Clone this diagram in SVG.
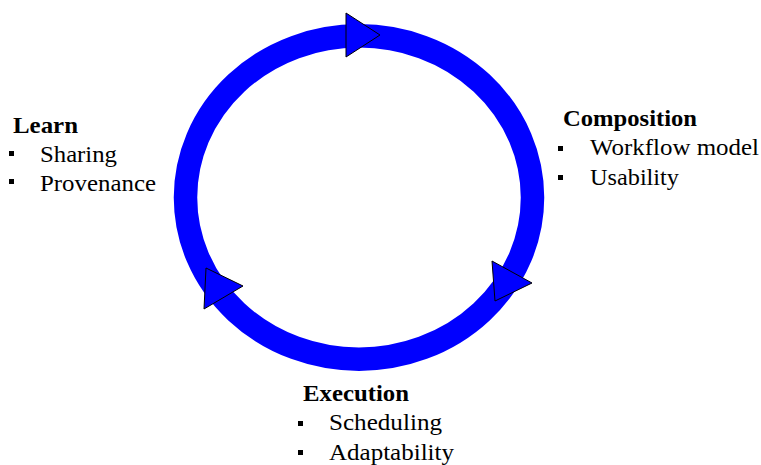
<svg xmlns="http://www.w3.org/2000/svg" width="761" height="465" viewBox="0 0 761 465">
<style>
.h{font-family:"Liberation Serif","Times New Roman",serif;font-weight:bold;font-size:23px;fill:#000}
.t{font-family:"Liberation Serif","Times New Roman",serif;font-size:23px;fill:#000}
.b{fill:#000}
.ah{fill:#0000ff;stroke:#000;stroke-width:1;stroke-linejoin:miter}
</style>
<rect width="761" height="465" fill="#fff"/>
<g id="connectors">
<ellipse cx="359" cy="197.5" rx="173.5" ry="161.7" fill="none" stroke="#0000ff" stroke-width="23.5"/>
<polygon class="ah" points="346,13 380,35 346,57"/>
<polygon class="ah" points="492,261 532,283 495,301"/>
<polygon class="ah" points="206,268 243,286 204,309"/>
</g>
<g id="learn">
<text class="h" x="13" y="133" textLength="65" lengthAdjust="spacingAndGlyphs">Learn</text>
<rect class="b" x="9" y="151" width="5" height="5"/>
<text class="t" x="40" y="162" textLength="77" lengthAdjust="spacingAndGlyphs">Sharing</text>
<rect class="b" x="9" y="179" width="5" height="5"/>
<text class="t" x="40" y="191" textLength="116" lengthAdjust="spacingAndGlyphs">Provenance</text>
</g>
<g id="composition">
<text class="h" x="563" y="126" textLength="134" lengthAdjust="spacingAndGlyphs">Composition</text>
<rect class="b" x="558" y="146" width="5" height="5"/>
<text class="t" x="590" y="155" textLength="169" lengthAdjust="spacingAndGlyphs">Workflow model</text>
<rect class="b" x="558" y="175" width="5" height="5"/>
<text class="t" x="590" y="185" textLength="89" lengthAdjust="spacingAndGlyphs">Usability</text>
</g>
<g id="execution">
<text class="h" x="303" y="401" textLength="106" lengthAdjust="spacingAndGlyphs">Execution</text>
<rect class="b" x="298" y="421" width="5" height="5"/>
<text class="t" x="329" y="430" textLength="113" lengthAdjust="spacingAndGlyphs">Scheduling</text>
<rect class="b" x="298" y="450" width="5" height="5"/>
<text class="t" x="329" y="460" textLength="125" lengthAdjust="spacingAndGlyphs">Adaptability</text>
</g>
</svg>
